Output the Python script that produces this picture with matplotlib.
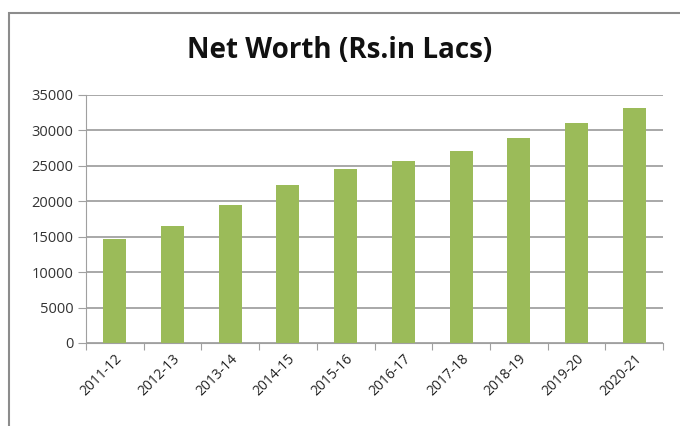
import matplotlib.pyplot as plt
from matplotlib.patches import Rectangle

years = ["2011-12", "2012-13", "2013-14", "2014-15", "2015-16",
         "2016-17", "2017-18", "2018-19", "2019-20", "2020-21"]
net_worth = [14700, 16500, 19500, 22300, 24500,
             25700, 27100, 28900, 31100, 33100]
y_ticks = [0, 5000, 10000, 15000, 20000, 25000, 30000, 35000]

W, H = 680, 426
fig = plt.figure(figsize=(W / 100, H / 100), dpi=100)
plt.rcParams["font.family"] = ["Open Sans", "DejaVu Sans"]

# chart frame (left/top edges visible, rest runs off the picture)
fig.patches.append(Rectangle((9 / W, -0.1), 1.2, (H - 13) / H + 0.1,
                             transform=fig.transFigure, fill=False,
                             edgecolor="#8c8c8c", linewidth=1.5))

ax = fig.add_axes([86 / W, 1 - 343 / H, (663 - 86) / W, (343 - 95) / H])
x = list(range(len(years)))
ax.bar(x, net_worth, width=0.4, color="#9bbb59", zorder=2)

ax.set_ylim(0, 35000)
ax.set_xlim(-0.5, len(years) - 0.5)
ax.set_yticks(y_ticks)
ax.set_yticklabels([str(v) for v in y_ticks], fontsize=10.5, color="#333333")
ax.yaxis.grid(True, color="#a8a8a8", linewidth=1.4, zorder=0)

ax.set_xticks([i - 0.5 for i in range(len(years) + 1)], minor=False)
ax.set_xticklabels([])
ax.set_xticks(x, minor=True)
ax.set_xticklabels(years, minor=True, rotation=45, ha="right", va="top",
                   rotation_mode="anchor", fontsize=10, color="#222222")
ax.tick_params(axis="x", which="minor", length=0, pad=6)
ax.tick_params(axis="x", which="major", length=5, color="#a0a0a0")
ax.tick_params(axis="y", length=6, color="#a0a0a0", pad=3)

for s in ["top", "right"]:
    ax.spines[s].set_visible(False)
ax.spines["left"].set_color("#a0a0a0")
ax.spines["bottom"].set_color("#a0a0a0")

fig.text(0.5, 1 - 50 / H, "Net Worth (Rs.in Lacs)", ha="center", va="center",
         fontsize=20, fontweight="bold", color="#111111")

fig.savefig("out.png", dpi=100)
